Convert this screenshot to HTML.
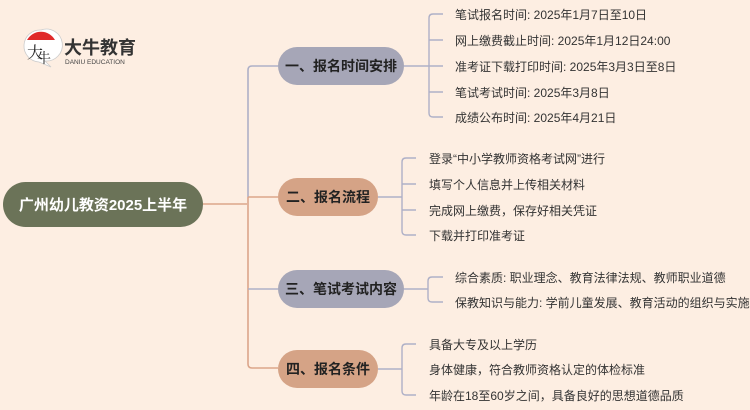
<!DOCTYPE html>
<html><head><meta charset="utf-8"><style>
html,body{margin:0;padding:0;background:#fdeee2;}
svg{display:block;font-family:"Liberation Sans","Noto Sans CJK SC",sans-serif;}
.leaf{font-size:12px;fill:#333;}
.br{font-size:14px;font-weight:bold;fill:#222;}
</style></head><body>
<svg width="750" height="410" viewBox="0 0 750 410" xmlns="http://www.w3.org/2000/svg">
<rect width="750" height="410" fill="#fdeee2"/>
<!-- logo -->
<path d="M41 30 a16 16 0 1 1 4 31 l6 6 l-12 -5 a16 16 0 0 1 2 -32z" fill="#fff" stroke="#ccc" stroke-width="0.8"/>
<path d="M27 40 a16 16 0 0 1 28 0z" fill="#e02a2a"/>
<text x="27" y="58" font-size="16" fill="#222" font-family="'Noto Serif CJK SC',serif">大</text>
<text x="37" y="63" font-size="14" fill="#222" font-family="'Noto Serif CJK SC',serif">牛</text>
<text x="64" y="54" font-size="18" font-weight="bold" fill="#333">大牛教育</text>
<text x="65" y="64" font-size="6.5" fill="#444">DANIU EDUCATION</text>

<!-- root connectors -->
<g fill="none" stroke-width="1.6">
<path d="M203 204 H247" stroke="#dba58a"/>
<path d="M278 66 H252 q-4 0 -4 4 V197" stroke="#aeb0c7"/>
<path d="M248 197 V364 q0 4 4 4 H278" stroke="#dba58a"/>
<path d="M248 197 H278" stroke="#dba58a"/>
<path d="M248 289 H278" stroke="#aeb0c7"/>
</g>
<!-- root -->
<rect x="3" y="182" width="200" height="45" rx="22.5" fill="#6b7358"/>
<text x="103" y="210" text-anchor="middle" font-size="15" font-weight="bold" fill="#fff">广州幼儿教资2025上半年</text>

<!-- branches -->
<rect x="278" y="47" width="126" height="38" rx="19" fill="#a6a6b7"/>
<text x="341" y="71" text-anchor="middle" class="br">一、报名时间安排</text>
<rect x="278" y="178" width="100" height="38" rx="19" fill="#d5a386"/>
<text x="328" y="202" text-anchor="middle" class="br">二、报名流程</text>
<rect x="278" y="270" width="126" height="38" rx="19" fill="#a6a6b7"/>
<text x="341" y="294" text-anchor="middle" class="br">三、笔试考试内容</text>
<rect x="278" y="350" width="100" height="38" rx="19" fill="#d5a386"/>
<text x="328" y="374" text-anchor="middle" class="br">四、报名条件</text>

<!-- leaf brackets -->
<g fill="none" stroke="#aeb0c7" stroke-width="1.4">
<path d="M404 66 H429"/>
<path d="M443 14 H433 q-4 0 -4 4 V113 q0 4 4 4 H443"/>
<path d="M429 40 H443 M429 66 H443 M429 92 H443"/>
<path d="M378 197 H402"/>
<path d="M416 158 H406 q-4 0 -4 4 V231 q0 4 4 4 H416"/>
<path d="M402 184 H416 M402 210 H416"/>
<path d="M404 289 H428"/>
<path d="M443 277 H432 q-4 0 -4 4 V298 q0 4 4 4 H443"/>
<path d="M378 369 H402"/>
<path d="M416 344 H406 q-4 0 -4 4 V391 q0 4 4 4 H416"/>
</g>

<!-- leaves -->
<text class="leaf" x="455" y="19">笔试报名时间: 2025年1月7日至10日</text>
<text class="leaf" x="455" y="45">网上缴费截止时间: 2025年1月12日24:00</text>
<text class="leaf" x="455" y="71">准考证下载打印时间: 2025年3月3日至8日</text>
<text class="leaf" x="455" y="97">笔试考试时间: 2025年3月8日</text>
<text class="leaf" x="455" y="122">成绩公布时间: 2025年4月21日</text>

<text class="leaf" x="429" y="163">登录“中小学教师资格考试网”进行</text>
<text class="leaf" x="429" y="189">填写个人信息并上传相关材料</text>
<text class="leaf" x="429" y="215">完成网上缴费，保存好相关凭证</text>
<text class="leaf" x="429" y="240">下载并打印准考证</text>

<text class="leaf" x="455" y="282">综合素质: 职业理念、教育法律法规、教师职业道德</text>
<text class="leaf" x="455" y="307">保教知识与能力: 学前儿童发展、教育活动的组织与实施</text>

<text class="leaf" x="429" y="349">具备大专及以上学历</text>
<text class="leaf" x="429" y="374">身体健康，符合教师资格认定的体检标准</text>
<text class="leaf" x="429" y="400">年龄在18至60岁之间，具备良好的思想道德品质</text>
</svg>
</body></html>
